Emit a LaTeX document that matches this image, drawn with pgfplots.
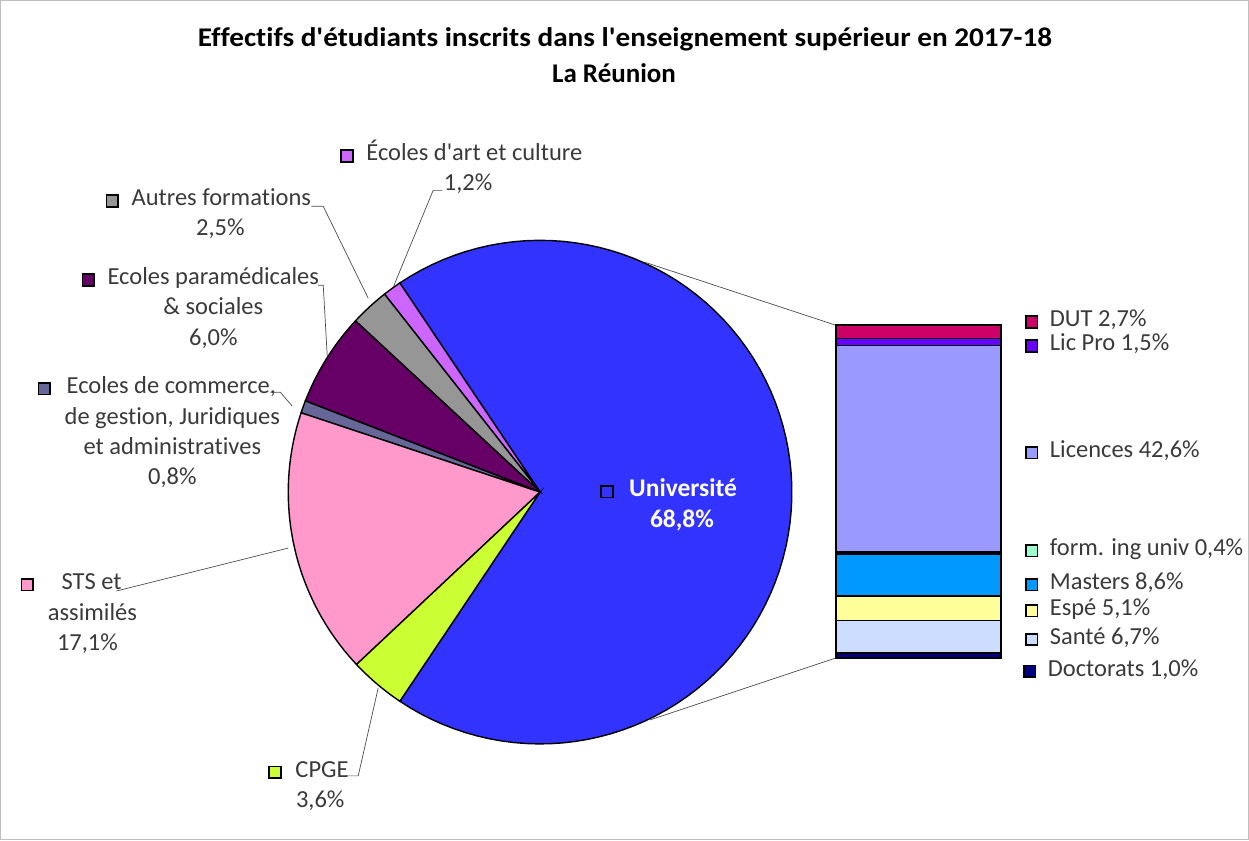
\documentclass[border=0pt]{standalone}
\usepackage{pgfplots}
\pgfplotsset{compat=1.18}
\usepackage{fontspec}
\setmainfont{Carlito}[Ligatures={TeXOff,CommonOff}]
\definecolor{univ}{HTML}{3333FF}
\definecolor{cpge}{HTML}{CCFF33}
\definecolor{sts}{HTML}{FF99CC}
\definecolor{comm}{HTML}{666699}
\definecolor{para}{HTML}{660066}
\definecolor{autres}{HTML}{969696}
\definecolor{art}{HTML}{CC66FF}
\definecolor{dut}{HTML}{CC0066}
\definecolor{licpro}{HTML}{6600FF}
\definecolor{lic}{HTML}{9999FF}
\definecolor{form}{HTML}{99FFCC}
\definecolor{masters}{HTML}{0099FF}
\definecolor{espe}{HTML}{FFFF99}
\definecolor{sante}{HTML}{CCDDFF}
\definecolor{doct}{HTML}{000080}
\definecolor{lab}{HTML}{3A3A3A}
\setlength\fboxrule{1.8pt}
\setlength\fboxsep{0pt}
\newcommand{\key}[1]{\fcolorbox{black}{#1}{\rule{0pt}{10pt}\hspace{10pt}}}
% pie slice: colour, start (%), value (%)
\newcommand{\slice}[3]{%
  \addplot[fill=#1, draw=black, line width=1.4pt, domain=#2*3.6:#2*3.6+#3*3.6, samples=90, variable=\t]
    ({540+252*cos(\t)},{492-252*sin(\t)}) -- (axis cs:540,492) -- cycle;}
\begin{document}
\begin{tikzpicture}[every node/.style={font=\fontsize{24.5}{30}\selectfont, text=lab, inner sep=0pt, text height=15pt, text depth=0pt}]
\begin{axis}[name=main, at={(0,0)}, anchor=south west, scale only axis,
  width=1249pt, height=840pt, xmin=0, xmax=1249, ymin=0, ymax=840, y dir=reverse,
  axis lines=box, axis line style={draw=black!25, line width=1pt},
  xtick=\empty, ytick=\empty, clip=false]
% pie (start %, value %)
\slice{univ}{-34.4}{68.8}
\slice{art}{34.4}{1.2}
\slice{autres}{35.6}{2.5}
\slice{para}{38.1}{6.0}
\slice{comm}{44.1}{0.8}
\slice{sts}{44.9}{17.1}
\slice{cpge}{62.0}{3.6}
% connector lines
\addplot[black!70, line width=0.7pt, mark=none] coordinates {(645,262) (836,325)};
\addplot[black!70, line width=0.7pt, mark=none] coordinates {(650,720) (836,658)};
% leader lines
\addplot[black!70, line width=0.7pt, mark=none] coordinates {(442,190) (433,190) (393,287)};
\addplot[black!70, line width=0.7pt, mark=none] coordinates {(311,206) (323,206) (368,298)};
\addplot[black!70, line width=0.7pt, mark=none] coordinates {(318,285) (323,285) (327,356)};
\addplot[black!70, line width=0.7pt, mark=none] coordinates {(270,392) (280,392) (292,406)};
\addplot[black!70, line width=0.7pt, mark=none] coordinates {(116,591) (288,548)};
\addplot[black!70, line width=0.7pt, mark=none] coordinates {(346,776) (358,776) (378,688)};
% titles
\node[text=black, font=\fontsize{27}{32}\bfseries, text height=17pt] at (625,38) {\resizebox{855pt}{\height}{Effectifs d'étudiants inscrits dans l'enseignement supérieur en 2017-18}};
\node[text=black, font=\fontsize{27}{32}\bfseries, text height=17pt] at (614,74) {La Réunion};
% pie labels
\node[anchor=west] at (340,153) {\key{art}};
\node[anchor=west] at (366,153) {Écoles d'art et culture};
\node at (468,183) {1,2\%};
\node[anchor=west] at (105,198) {\key{autres}};
\node[anchor=west] at (131,198) {Autres formations};
\node at (220,228) {2,5\%};
\node[anchor=west] at (81,277) {\key{para}};
\node[anchor=west] at (107,277) {Ecoles paramédicales};
\node at (213,307) {\& sociales};
\node at (213,338) {6,0\%};
\node[anchor=west] at (37,386) {\key{comm}};
\node[anchor=west] at (66,386) {Ecoles de commerce,};
\node at (172,417) {de gestion, Juridiques};
\node at (172,447) {et administratives};
\node at (172,477) {0,8\%};
\node[anchor=west] at (20,582) {\key{sts}};
\node[anchor=west] at (61,582) {STS et};
\node at (92,613) {assimilés};
\node at (87,643) {17,1\%};
\node[anchor=west] at (268,770) {\key{cpge}};
\node[anchor=west] at (295,770) {CPGE};
\node at (320,800) {3,6\%};
\node[anchor=west] at (600,489) {\key{univ}};
\node[anchor=west, text=white, font=\fontsize{25.5}{30}\bfseries] at (629,489) {Université};
\node[text=white, font=\fontsize{25.5}{30}\bfseries] at (682,520) {68,8\%};
% bar labels
\node[anchor=west] at (1025,319) {\key{dut}};
\node[anchor=west] at (1050,319) {DUT 2,7\%};
\node[anchor=west] at (1025,343) {\key{licpro}};
\node[anchor=west] at (1050,343) {Lic Pro 1,5\%};
\node[anchor=west] at (1025,450) {\key{lic}};
\node[anchor=west] at (1050,450) {Licences 42,6\%};
\node[anchor=west] at (1025,548) {\key{form}};
\node[anchor=west] at (1050,548) {form. ing univ 0,4\%};
\node[anchor=west] at (1025,582) {\key{masters}};
\node[anchor=west] at (1050,582) {Masters 8,6\%};
\node[anchor=west] at (1025,608) {\key{espe}};
\node[anchor=west] at (1050,608) {Espé 5,1\%};
\node[anchor=west] at (1025,637) {\key{sante}};
\node[anchor=west] at (1050,637) {Santé 6,7\%};
\node[anchor=west] at (1023,669) {\key{doct}};
\node[anchor=west] at (1048,669) {Doctorats 1,0\%};
\end{axis}
\begin{axis}[at={(836pt,182pt)}, anchor=south west, scale only axis,
  width=165pt, height=333pt, xmin=-0.5, xmax=0.5, ymin=0, ymax=68.6,
  hide axis, ybar stacked, bar width=165pt, clip=false,
  every axis plot/.append style={draw=black, line width=1.6pt}]
\addplot[fill=doct] coordinates {(0,1.0)};
\addplot[fill=sante] coordinates {(0,6.7)};
\addplot[fill=espe] coordinates {(0,5.1)};
\addplot[fill=masters] coordinates {(0,8.6)};
\addplot[fill=form] coordinates {(0,0.4)};
\addplot[fill=lic] coordinates {(0,42.6)};
\addplot[fill=licpro] coordinates {(0,1.5)};
\addplot[fill=dut] coordinates {(0,2.7)};
\end{axis}
\end{tikzpicture}
\end{document}
